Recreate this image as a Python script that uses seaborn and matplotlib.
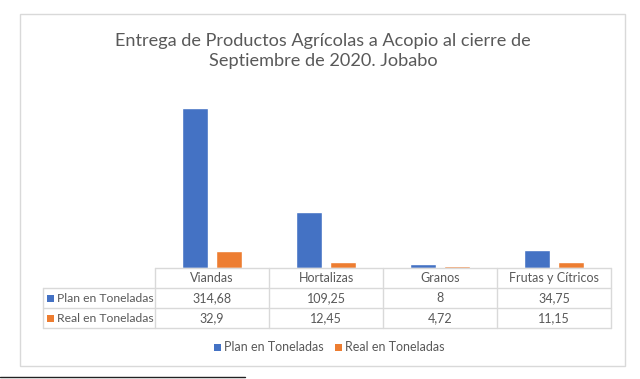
import pandas as pd
import numpy as np
import matplotlib
matplotlib.use('Agg')
import matplotlib.pyplot as plt
import seaborn as sns
from matplotlib.patches import Rectangle
from matplotlib.lines import Line2D

# 데이터
categorias = ['Viandas', 'Hortalizas', 'Granos', 'Frutas y Cítricos']
plan = [314.68, 109.25, 8, 34.75]
real = [32.9, 12.45, 4.72, 11.15]
plan_txt = ['314,68', '109,25', '8', '34,75']
real_txt = ['32,9', '12,45', '4,72', '11,15']
series = ['Plan en Toneladas', 'Real en Toneladas']
colores = ['#4472C4', '#ED7D31']
titulo = 'Entrega de Productos Agrícolas a Acopio al cierre de\nSeptiembre de 2020. Jobabo'

sns.set_style('white')
plt.rcParams['font.family'] = ['Lato', 'DejaVu Sans']

W, H = 640, 379
fig = plt.figure(figsize=(W / 100, H / 100), dpi=100)

def fx(px):
    return px / W

def fy(py):
    return 1 - py / H

# 차트 테두리
fig.add_artist(Rectangle((fx(20), fy(366)), fx(625) - fx(20), fy(14) - fy(366),
                         transform=fig.transFigure, fill=False, edgecolor='#d9d9d9', lw=1))
# 문서 밑줄
fig.add_artist(Line2D([fx(0), fx(245)], [fy(377), fy(377)], transform=fig.transFigure,
                      color='#222222', lw=1))

fig.text(fx(323), fy(51), titulo, ha='center', va='center', fontsize=13.1,
         color='#595959', linespacing=1.3)

# 막대 그래프
df = pd.DataFrame({'cat': categorias * 2,
                   'serie': [series[0]] * 4 + [series[1]] * 4,
                   'val': plan + real})
x0, x1 = 155, 611
ybot, ytop = 268, 90
ax = fig.add_axes([fx(x0), fy(ybot), fx(x1) - fx(x0), fy(ytop) - fy(ybot)])
sns.barplot(data=df, x='cat', y='val', hue='serie', palette=colores, ax=ax,
            width=0.6, gap=0.22, legend=False, saturation=1)
ax.set_ylim(0, 350)
ax.set_xlim(-0.5, 3.5)
ax.axis('off')

# 데이터 테이블
rows = [268, 288, 308, 328]
col_w = (x1 - x0) / 4
cols = [x0 + i * col_w for i in range(5)]
lab_x = 43
gris = '#d9d9d9'
txt = '#595959'

def hline(xa, xb, y):
    fig.add_artist(Line2D([fx(xa), fx(xb)], [fy(y), fy(y)], transform=fig.transFigure, color=gris, lw=1))

def vline(x, ya, yb):
    fig.add_artist(Line2D([fx(x), fx(x)], [fy(ya), fy(yb)], transform=fig.transFigure, color=gris, lw=1))

hline(x0, x1, rows[0])
for r in rows[1:]:
    hline(lab_x, x1, r)
for c in cols:
    vline(c, rows[0], rows[3])
vline(lab_x, rows[1], rows[3])

for i, c in enumerate(categorias):
    cx = cols[i] + col_w / 2
    fig.text(fx(cx), fy((rows[0] + rows[1]) / 2), c, ha='center', va='center', fontsize=9, color=txt)
    fig.text(fx(cx), fy((rows[1] + rows[2]) / 2), plan_txt[i], ha='center', va='center', fontsize=9, color=txt)
    fig.text(fx(cx), fy((rows[2] + rows[3]) / 2), real_txt[i], ha='center', va='center', fontsize=9, color=txt)

for j, s in enumerate(series):
    yc = (rows[j + 1] + rows[j + 2]) / 2
    fig.add_artist(Rectangle((fx(47), fy(yc + 3.5)), fx(7), fy(0) - fy(7), transform=fig.transFigure,
                             facecolor=colores[j], edgecolor='none'))
    fig.text(fx(57), fy(yc), s, ha='left', va='center', fontsize=8.7, color=txt)

# 범례
leg_y = 347
items = [(214, series[0]), (335, series[1])]
for (lx, s), col in zip(items, colores):
    fig.add_artist(Rectangle((fx(lx), fy(leg_y + 3.5)), fx(7), fy(0) - fy(7), transform=fig.transFigure,
                             facecolor=col, edgecolor='none'))
    fig.text(fx(lx + 10), fy(leg_y), s, ha='left', va='center', fontsize=9, color=txt)

fig.savefig('out.png', dpi=100)
